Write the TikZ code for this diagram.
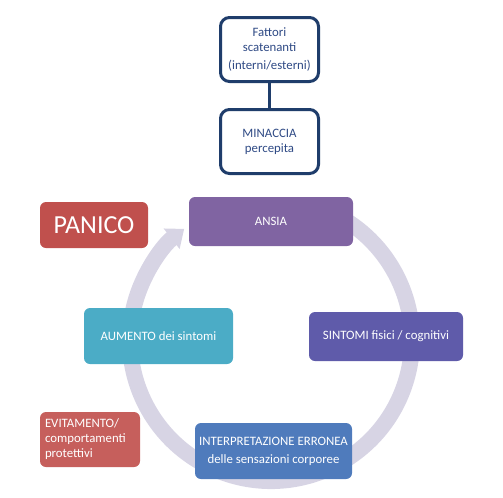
\documentclass[tikz,border=0pt]{standalone}
\usepackage{fontspec}
\setmainfont{Carlito}
\usetikzlibrary{arrows.meta}
\definecolor{navy}{HTML}{1F3D6B}
\definecolor{navytext}{HTML}{2F4A85}
\definecolor{panicoc}{HTML}{C0504D}
\definecolor{ansiac}{HTML}{8064A2}
\definecolor{aumentoc}{HTML}{4BACC6}
\definecolor{sintomic}{HTML}{5F5BAA}
\definecolor{interpc}{HTML}{4F7BBC}
\definecolor{evitc}{HTML}{C65F5C}
\definecolor{arcc}{HTML}{D7D4E4}
\tikzset{
  topbox/.style={draw=navy, line width=2.25pt, fill=white, rounded corners=6.75pt,
    text=navytext, align=center, inner sep=0pt, font=\fontsize{9.6}{11.25}\selectfont},
  cbox/.style={rounded corners=4.5pt, text=white, align=center, inner sep=0pt,
    font=\fontsize{9.6}{11.25}\selectfont},
  cyclearc/.style={draw=arcc, line width=12pt,
    -{Triangle[width=18.75pt,length=12pt]}}
}
\begin{document}
\begin{tikzpicture}[x=0.75pt,y=-0.75pt]
\useasboundingbox (0,0) rectangle (503,497);
% cycle arc (behind boxes)
\draw[cyclearc] (271,340) ++(-70:141) arc[start angle=-70, end angle=232, radius=141];
% top boxes
\node[topbox, minimum width=73.5pt, minimum height=48pt] (fattori) at (269.5,49.5)
  {Fattori\\scatenanti\\[2.25pt](interni/esterni)};
\node[topbox, minimum width=73.5pt, minimum height=48pt] (minaccia) at (269.5,141.5)
  {MINACCIA\\percepita};
\draw[navy, line width=2.25pt] (fattori.south) -- (minaccia.north);
% cycle boxes
\node[cbox, fill=panicoc, minimum width=81pt, minimum height=34.5pt,
  font=\fontsize{19.5}{22}\selectfont] (panico) at (94,225) {PANICO};
\node[cbox, fill=ansiac, minimum width=123pt, minimum height=36.75pt] (ansia) at (271,221.5) {ANSIA};
\node[cbox, fill=aumentoc, minimum width=111.75pt, minimum height=42pt] (aumento) at (158.5,336) {AUMENTO dei sintomi};
\node[cbox, fill=sintomic, minimum width=115.5pt, minimum height=36.75pt] (sintomi) at (386,336.5) {SINTOMI fisici / cognitivi};
\node[cbox, fill=interpc, minimum width=117.75pt, minimum height=42pt] (interp) at (273.5,451)
  {INTERPRETAZIONE ERRONEA\\[2.25pt]delle sensazioni corporee};
\node[cbox, fill=evitc, minimum width=75pt, minimum height=41.25pt, align=left,
  text width=67.5pt, inner xsep=3.75pt] (evit) at (90,439.5)
  {EVITAMENTO/\\comportamenti\\protettivi};
\end{tikzpicture}
\end{document}
